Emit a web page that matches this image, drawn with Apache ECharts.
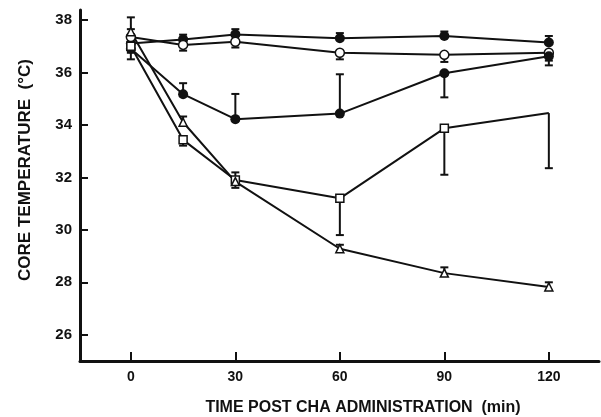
<!DOCTYPE html>
<html>
<head>
<meta charset="utf-8">
<script src="https://cdn.jsdelivr.net/npm/echarts@6/dist/echarts.min.js"></script>
<style>
  html, body { margin: 0; padding: 0; background: #fff; }
  #chart { width: 601px; height: 417px; }
</style>
</head>
<body>
<div id="chart"></div>
<script>
// Time points (min after CHA administration)
const times = [0, 15, 30, 60, 90, 120];
const xTicks = [0, 30, 60, 90, 120];
const yTicks = [26, 28, 30, 32, 34, 36, 38];

// Mean core temperature (°C) per group
const filledTop   = [37.1, 37.26, 37.45, 37.30, 37.39, 37.14];
const openCircle  = [37.35, 37.05, 37.17, 36.75, 36.67, 36.75];
const filledMid   = [36.9, 35.17, 34.22, 34.43, 35.97, 36.62];
const openSquare  = [37.0, 33.43, 31.9, 31.2, 33.87, 34.45];
const openTri     = [37.55, 34.1, 31.84, 29.28, 28.35, 27.82];

// Signed SEM bars (drawn toward one side only)
const errTop    = [0.25, 0.18, 0.2, 0.2, 0.17, 0.25];
const errOpen   = [0.3, -0.22, -0.22, -0.25, -0.27, -0.3];
const errMid    = [-0.4, 0.42, 0.96, 1.5, -0.92, -0.35];
const errSquare = [-0.25, -0.22, -0.3, -1.4, -1.77, -2.1];
const errTri    = [0.55, 0.22, 0.35, 0.15, 0.22, 0.18];

const ink = '#111';
const font = 'Liberation Sans';

function pairs(vals) {
  return vals.map((v, i) => [times[i], v]);
}

function errorSeries(vals, errs) {
  return {
    type: 'custom',
    silent: true,
    z: 1,
    data: vals.map((v, i) => [times[i], v, v + errs[i]]),
    renderItem: function (params, api) {
      const p0 = api.coord([api.value(0), api.value(1)]);
      const p1 = api.coord([api.value(0), api.value(2)]);
      const hw = 4;
      return {
        type: 'group',
        children: [
          { type: 'line', shape: { x1: p0[0], y1: p0[1], x2: p1[0], y2: p1[1] },
            style: { stroke: ink, lineWidth: 2 } },
          { type: 'line', shape: { x1: p1[0] - hw, y1: p1[1], x2: p1[0] + hw, y2: p1[1] },
            style: { stroke: ink, lineWidth: 2 } }
        ]
      };
    }
  };
}

function lineSeries(vals, symbol, size, filled, hideLast) {
  const data = pairs(vals).map((p, i) => {
    if (hideLast && i === vals.length - 1) return { value: p, symbol: 'none' };
    return p;
  });
  return {
    type: 'line',
    data: data,
    symbol: symbol,
    symbolSize: size,
    showAllSymbol: true,
    z: 3,
    lineStyle: { color: ink, width: 2 },
    itemStyle: { color: filled ? ink : '#fff', borderColor: ink, borderWidth: filled ? 0 : 1.5 },
    emphasis: { disabled: true },
    animation: false
  };
}

const chart = echarts.init(document.getElementById('chart'), null, { renderer: 'canvas' });

chart.setOption({
  animation: false,
  backgroundColor: '#fff',
  grid: { left: 80, right: 2, top: 10, bottom: 56 },
  xAxis: {
    type: 'value',
    min: -14.6,
    max: 134.4,
    splitLine: { show: false },
    axisLine: { show: true, onZero: false, lineStyle: { color: ink, width: 3 } },
    axisTick: { show: true, inside: true, length: 9, customValues: xTicks,
                lineStyle: { color: ink, width: 2 } },
    axisLabel: { customValues: xTicks, color: ink, fontFamily: font,
                 fontWeight: 'bold', fontSize: 14, margin: 9 }
  },
  yAxis: {
    type: 'value',
    min: 25,
    max: 38.38,
    splitLine: { show: false },
    axisLine: { show: true, onZero: false, lineStyle: { color: ink, width: 3 } },
    axisTick: { show: true, inside: true, length: 8, customValues: yTicks,
                lineStyle: { color: ink, width: 2 } },
    axisLabel: { customValues: yTicks, color: ink, fontFamily: font,
                 fontWeight: 'bold', fontSize: 15, margin: 8 }
  },
  graphic: [
    {
      type: 'text', x: 363, y: 408,
      style: { text: 'TIME POST CHA ADMINISTRATION  (min)', fill: ink, font: 'bold 16px "Liberation Sans"',
               align: 'center', verticalAlign: 'middle' }
    },
    {
      type: 'text', x: 25, y: 170, rotation: Math.PI / 2,
      style: { text: 'CORE TEMPERATURE  (°C)', fill: ink, font: 'bold 17px "Liberation Sans"',
               align: 'center', verticalAlign: 'middle' }
    }
  ],
  series: [
    errorSeries(filledTop, errTop),
    errorSeries(openCircle, errOpen),
    errorSeries(filledMid, errMid),
    errorSeries(openSquare, errSquare),
    errorSeries(openTri, errTri),
    lineSeries(filledTop, 'circle', 10, true),
    lineSeries(openCircle, 'circle', 9, false),
    lineSeries(filledMid, 'circle', 10, true),
    lineSeries(openSquare, 'rect', 8, false, true),
    lineSeries(openTri, 'triangle', 8, false)
  ]
});
</script>
</body>
</html>
